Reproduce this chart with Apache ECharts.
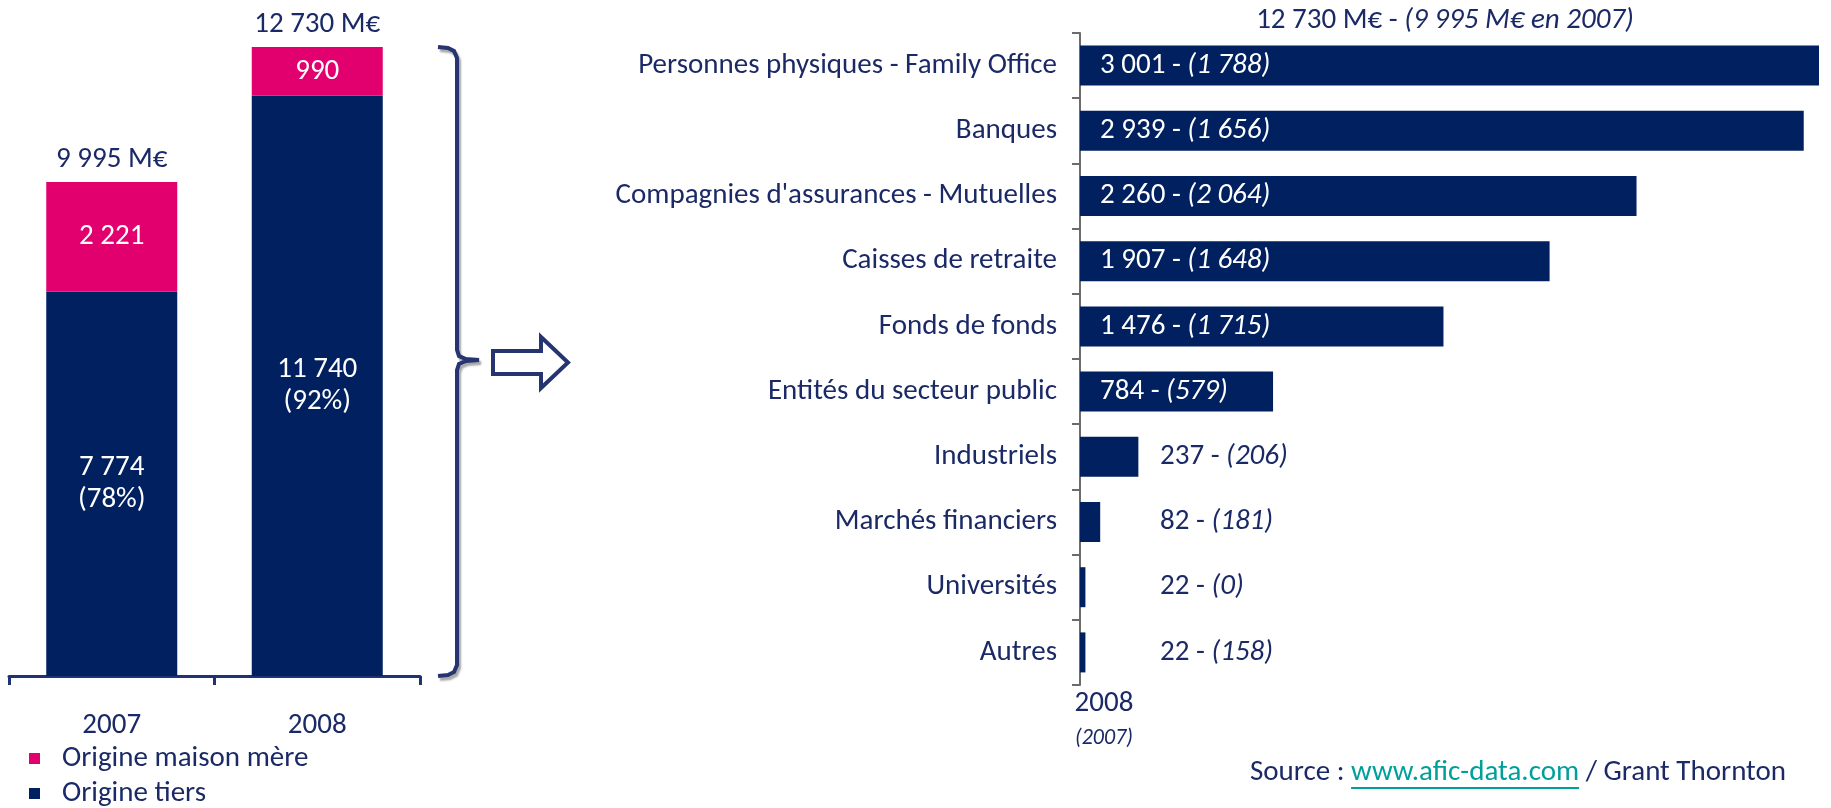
<!DOCTYPE html>
<html>
<head>
<meta charset="utf-8">
<script src="https://cdn.jsdelivr.net/npm/echarts@6/dist/echarts.min.js"></script>
<style>
  html, body { margin: 0; padding: 0; background: #fff; }
  #chart { width: 1831px; height: 808px; }
</style>
</head>
<body>
<div id="chart"></div>
<script>
// left chart: origine des capitaux levés
var years = ['2007', '2008'];
var tiers = [7774, 11740];
var maisonMere = [2221, 990];

// right chart: répartition par type de souscripteur, 2008 (2007)
var categories = [
  'Personnes physiques - Family Office',
  'Banques',
  "Compagnies d'assurances - Mutuelles",
  'Caisses de retraite',
  'Fonds de fonds',
  'Entités du secteur public',
  'Industriels',
  'Marchés financiers',
  'Universités',
  'Autres'
];
var val2008 = [3001, 2939, 2260, 1907, 1476, 784, 237, 82, 22, 22];
var val2007 = [1788, 1656, 2064, 1648, 1715, 579, 206, 181, 0, 158];

var NAVY = '#002060';
var PINK = '#e2006f';
var TEXT = '#1b2a66';
var LINK = '#00a09a';
var FONT = 'Carlito, Lato, sans-serif';
var FS = 29;

function fmt(v) {
  return String(v).replace(/\B(?=(\d{3})+(?!\d))/g, ' ');
}

// text widths, for the underline of the link
var ctx = document.createElement('canvas').getContext('2d');
ctx.font = FS + 'px ' + FONT;
var srcX = 1250;
var wSource = ctx.measureText('Source : ').width;
var wLink = ctx.measureText('www.afic-data.com').width;

var chart = echarts.init(document.getElementById('chart'));

var rightData = val2008.map(function (v, i) {
  var item = { value: v };
  if (v < 500) {
    item.label = {
      position: [80, '50%'],
      align: 'left',
      verticalAlign: 'middle',
      color: TEXT
    };
  }
  return item;
});

var bracketStyle = {
  fill: 'none', stroke: '#26346f', lineWidth: 4,
  shadowColor: 'rgba(0,0,0,0.35)', shadowOffsetX: 2, shadowOffsetY: 3, shadowBlur: 2
};

chart.setOption({
  animation: false,
  textStyle: { fontFamily: FONT },
  legend: {
    orient: 'vertical',
    left: 29,
    top: 744,
    height: 80,
    padding: 0,
    itemWidth: 11,
    itemHeight: 11,
    itemGap: 6,
    icon: 'rect',
    data: ['Origine maison mère', 'Origine tiers'],
    textStyle: { color: TEXT, fontSize: FS, fontFamily: FONT, padding: [0, 0, 0, 17] }
  },
  grid: [
    { left: 9, width: 411, top: 33.6, height: 642.4 },
    { left: 1080, width: 739, top: 33, height: 652 }
  ],
  xAxis: [
    {
      gridIndex: 0,
      type: 'category',
      data: years,
      axisLine: { lineStyle: { color: '#1f3275', width: 3 } },
      axisTick: { show: true, length: 9, lineStyle: { color: '#1f3275', width: 3 } },
      axisLabel: { color: TEXT, fontSize: FS, margin: 35, fontFamily: FONT }
    },
    {
      gridIndex: 1,
      type: 'value',
      min: 0,
      max: Math.max.apply(null, val2008),
      show: false
    }
  ],
  yAxis: [
    { gridIndex: 0, type: 'value', min: 0, max: 13000, show: false },
    {
      gridIndex: 1,
      type: 'category',
      inverse: true,
      data: categories,
      axisLine: { lineStyle: { color: '#6b6b6b', width: 2 } },
      axisTick: { show: true, length: 8, lineStyle: { color: '#6b6b6b', width: 2 } },
      axisLabel: { color: TEXT, fontSize: FS, margin: 23, fontFamily: FONT }
    }
  ],
  series: [
    {
      name: 'Origine tiers',
      type: 'bar',
      stack: 'total',
      xAxisIndex: 0,
      yAxisIndex: 0,
      barWidth: 131,
      itemStyle: { color: NAVY },
      label: {
        show: true,
        position: 'inside',
        color: '#fff',
        fontSize: FS,
        lineHeight: 32,
        fontFamily: FONT,
        formatter: function (p) {
          var total = tiers[p.dataIndex] + maisonMere[p.dataIndex];
          return fmt(p.value) + '\n(' + Math.round(p.value / total * 100) + '%)';
        }
      },
      data: tiers
    },
    {
      name: 'Origine maison mère',
      type: 'bar',
      stack: 'total',
      xAxisIndex: 0,
      yAxisIndex: 0,
      barWidth: 131,
      itemStyle: { color: PINK },
      label: {
        show: true,
        position: 'inside',
        color: '#fff',
        fontSize: FS,
        fontFamily: FONT,
        formatter: function (p) { return fmt(p.value); }
      },
      data: maisonMere
    },
    {
      // totals above the stacks
      type: 'bar',
      stack: 'total',
      xAxisIndex: 0,
      yAxisIndex: 0,
      barWidth: 131,
      itemStyle: { color: 'transparent' },
      label: {
        show: true,
        position: 'top',
        distance: 8,
        color: TEXT,
        fontSize: FS,
        fontFamily: FONT,
        formatter: function (p) {
          return fmt(tiers[p.dataIndex] + maisonMere[p.dataIndex]) + ' M€';
        }
      },
      data: [0, 0]
    },
    {
      name: '2008',
      type: 'bar',
      xAxisIndex: 1,
      yAxisIndex: 1,
      barWidth: 40,
      itemStyle: { color: NAVY },
      label: {
        show: true,
        position: 'insideLeft',
        distance: 20,
        color: '#fff',
        fontSize: FS,
        fontFamily: FONT,
        formatter: function (p) {
          return '{n|' + fmt(p.value) + ' - }{i|(' + fmt(val2007[p.dataIndex]) + ')}';
        },
        rich: {
          n: { fontSize: FS, fontFamily: FONT },
          i: { fontSize: FS, fontFamily: FONT, fontStyle: 'italic' }
        }
      },
      data: rightData
    }
  ],
  graphic: [
    {
      // accolade
      type: 'polyline',
      shape: {
        points: [[438, 47], [448, 48], [454, 51], [457, 58], [457, 350], [459, 356], [466, 359], [479, 360],
                 [466, 361], [459, 364], [457, 370], [457, 665], [454, 672], [448, 675], [438, 676]]
      },
      style: bracketStyle
    },
    {
      // flèche
      type: 'polygon',
      shape: {
        points: [[493, 351], [541, 351], [541, 337], [568, 362.5], [541, 388], [541, 374], [493, 374]]
      },
      style: { fill: '#fff', stroke: '#26346f', lineWidth: 4 }
    },
    {
      type: 'text',
      x: 1445, y: 21,
      style: {
        text: '{n|12 730 M€ - }{i|(9 995 M€ en 2007)}',
        align: 'center', verticalAlign: 'middle',
        rich: {
          n: { fontSize: FS, fontFamily: FONT, fill: TEXT },
          i: { fontSize: FS, fontFamily: FONT, fill: TEXT, fontStyle: 'italic' }
        }
      }
    },
    {
      type: 'text',
      x: 1104, y: 704,
      style: { text: '2008', align: 'center', verticalAlign: 'middle', fontSize: FS, fontFamily: FONT, fill: TEXT }
    },
    {
      type: 'text',
      x: 1104, y: 738,
      style: { text: '(2007)', align: 'center', verticalAlign: 'middle', fontSize: 22, fontFamily: FONT, fontStyle: 'italic', fill: TEXT }
    },
    {
      type: 'text',
      x: srcX, y: 773,
      style: {
        text: '{n|Source : }{u|www.afic-data.com}{n| / Grant Thornton}',
        align: 'left', verticalAlign: 'middle',
        rich: {
          n: { fontSize: FS, fontFamily: FONT, fill: TEXT },
          u: { fontSize: FS, fontFamily: FONT, fill: LINK }
        }
      }
    },
    {
      type: 'line',
      shape: { x1: srcX + wSource, y1: 788, x2: srcX + wSource + wLink, y2: 788 },
      style: { stroke: LINK, lineWidth: 2 }
    }
  ]
});
</script>
</body>
</html>
